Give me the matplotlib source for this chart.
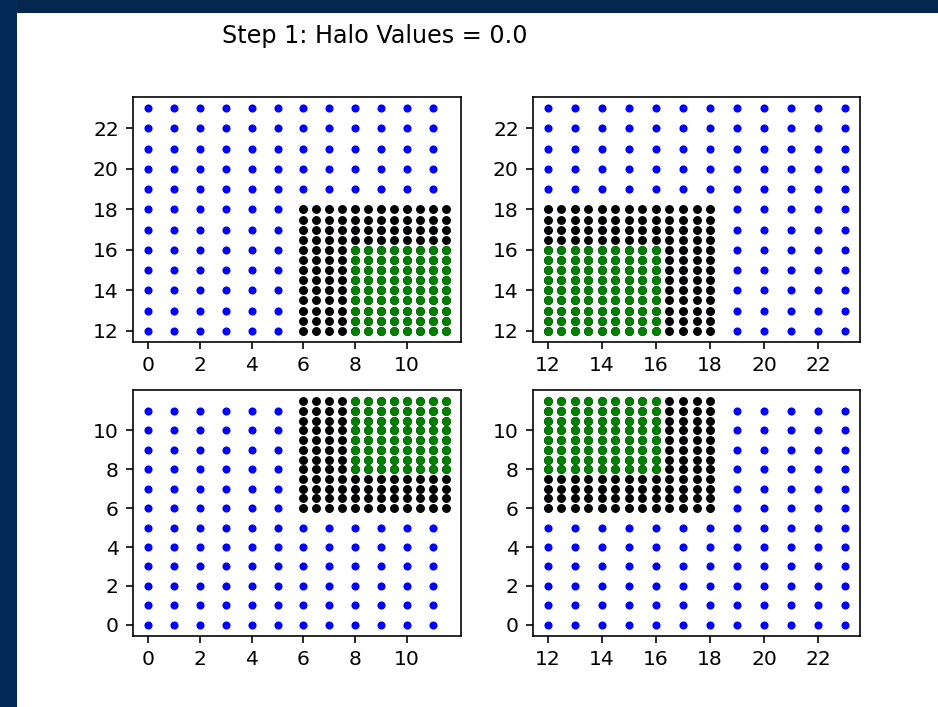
import numpy as np
import matplotlib.pyplot as plt
from matplotlib.patches import Rectangle

# coarse grid (one point per cell) and the refined patch with its inner block
coarse = np.arange(0, 24)
halo = np.arange(6, 18.5, 0.5)
inner = np.arange(8, 16.5, 0.5)

# each rank owns a 12x12 block: (x0, x1, y0, y1)
blocks = [(0, 12, 12, 24), (12, 24, 12, 24), (0, 12, 0, 12), (12, 24, 0, 12)]
# axes boxes in pixels: left, top, right, bottom
boxes = [(133, 97, 461, 342), (533, 97, 860, 342),
         (133, 390, 461, 636), (533, 390, 860, 636)]

W, H, DPI = 938, 707, 146
fig = plt.figure(figsize=(W / DPI, H / DPI), dpi=DPI)

# dark frame along top and left edges
fig.patches.append(Rectangle((0, 1 - 12 / H), 1, 12 / H, transform=fig.transFigure,
                             color='#04264f', zorder=0))
fig.patches.append(Rectangle((0, 0), 16 / W, 1, transform=fig.transFigure,
                             color='#052a57', zorder=0))


def part(v, lo, hi):
    return v[(v >= lo) & (v < hi)]


def scatter(ax, xs, ys, color, ms):
    X, Y = np.meshgrid(xs, ys)
    ax.plot(X.ravel(), Y.ravel(), 'o', color=color, ms=ms, mew=0, ls='none')


for (x0, x1, y0, y1), (l, t, r, b) in zip(blocks, boxes):
    ax = fig.add_axes([l / W, 1 - b / H, (r - l) / W, (b - t) / H])
    scatter(ax, part(coarse, x0, x1), part(coarse, y0, y1), 'blue', 4.0)
    scatter(ax, part(halo, x0, x1), part(halo, y0, y1), 'black', 4.4)
    scatter(ax, part(inner, x0, x1), part(inner, y0, y1), 'green', 4.4)
    ax.set_xticks(np.arange(x0, x1, 2))
    ax.set_yticks(np.arange(y0, y1, 2))
    ax.tick_params(labelsize=10)

fig.text(375 / W, 1 - 36 / H, 'Step 1: Halo Values = 0.0', ha='center', va='center',
         fontsize=11.8)

fig.savefig('out.png', dpi=DPI)
